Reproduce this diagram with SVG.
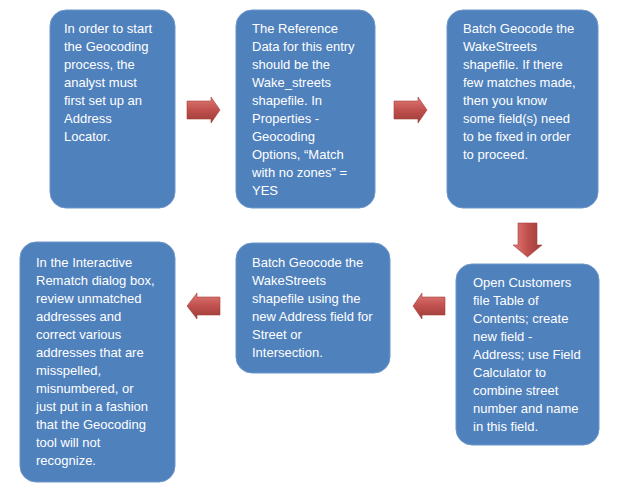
<svg xmlns="http://www.w3.org/2000/svg" width="618" height="496" viewBox="0 0 618 496">
<style>
.box{fill:#4f81bd;stroke:#6d95c8;stroke-width:1}
.t{font-family:"Liberation Sans",Arial,sans-serif;font-size:13px;fill:#ffffff}
.arr{fill:url(#rg);stroke:#a4403d;stroke-width:0.6}
</style>
<defs>
<linearGradient id="rg" x1="0" y1="0" x2="0" y2="1">
<stop offset="0" stop-color="#e07a76"/>
<stop offset="0.5" stop-color="#c0504d"/>
<stop offset="1" stop-color="#9c3c39"/>
</linearGradient>
<linearGradient id="rgv" x1="0" y1="0" x2="1" y2="0">
<stop offset="0" stop-color="#e07a76"/>
<stop offset="0.5" stop-color="#c0504d"/>
<stop offset="1" stop-color="#9c3c39"/>
</linearGradient>
</defs>
<rect width="618" height="496" fill="#ffffff"/>
<g id="n1">
<rect class="box" x="50" y="10" width="125" height="198" rx="16"/>
<text class="t" x="64" y="33">
<tspan x="64" dy="0">In order to start</tspan>
<tspan x="64" dy="18">the Geocoding</tspan>
<tspan x="64" dy="18">process, the</tspan>
<tspan x="64" dy="18">analyst must</tspan>
<tspan x="64" dy="18">first set up an</tspan>
<tspan x="64" dy="18">Address</tspan>
<tspan x="64" dy="18">Locator.</tspan>
</text>
</g>
<g id="n2">
<rect class="box" x="236" y="10" width="139" height="198" rx="16"/>
<text class="t" x="252" y="33">
<tspan x="252" dy="0">The Reference</tspan>
<tspan x="252" dy="18">Data for this entry</tspan>
<tspan x="252" dy="18">should be the</tspan>
<tspan x="252" dy="18">Wake_streets</tspan>
<tspan x="252" dy="18">shapefile. In</tspan>
<tspan x="252" dy="18">Properties -</tspan>
<tspan x="252" dy="18">Geocoding</tspan>
<tspan x="252" dy="18">Options, “Match</tspan>
<tspan x="252" dy="18">with no zones” =</tspan>
<tspan x="252" dy="18">YES</tspan>
</text>
</g>
<g id="n3">
<rect class="box" x="447" y="10" width="151" height="198" rx="16"/>
<text class="t" x="463" y="33">
<tspan x="463" dy="0">Batch Geocode the</tspan>
<tspan x="463" dy="18">WakeStreets</tspan>
<tspan x="463" dy="18">shapefile. If there</tspan>
<tspan x="463" dy="18">few matches made,</tspan>
<tspan x="463" dy="18">then you know</tspan>
<tspan x="463" dy="18">some field(s) need</tspan>
<tspan x="463" dy="18">to be fixed in order</tspan>
<tspan x="463" dy="18">to proceed.</tspan>
</text>
</g>
<g id="n4">
<rect class="box" x="456" y="264" width="143" height="181" rx="16"/>
<text class="t" x="473" y="287">
<tspan x="473" dy="0">Open Customers</tspan>
<tspan x="473" dy="18">file Table of</tspan>
<tspan x="473" dy="18">Contents; create</tspan>
<tspan x="473" dy="18">new field -</tspan>
<tspan x="473" dy="18">Address; use Field</tspan>
<tspan x="473" dy="18">Calculator to</tspan>
<tspan x="473" dy="18">combine street</tspan>
<tspan x="473" dy="18">number and name</tspan>
<tspan x="473" dy="18">in this field.</tspan>
</text>
</g>
<g id="n5">
<rect class="box" x="236" y="243" width="154" height="130" rx="16"/>
<text class="t" x="252" y="267">
<tspan x="252" dy="0">Batch Geocode the</tspan>
<tspan x="252" dy="18">WakeStreets</tspan>
<tspan x="252" dy="18">shapefile using the</tspan>
<tspan x="252" dy="18">new Address field for</tspan>
<tspan x="252" dy="18">Street or</tspan>
<tspan x="252" dy="18">Intersection.</tspan>
</text>
</g>
<g id="n6">
<rect class="box" x="20" y="242" width="155" height="240" rx="16"/>
<text class="t" x="36" y="267">
<tspan x="36" dy="0">In the Interactive</tspan>
<tspan x="36" dy="18">Rematch dialog box,</tspan>
<tspan x="36" dy="18">review unmatched</tspan>
<tspan x="36" dy="18">addresses and</tspan>
<tspan x="36" dy="18">correct various</tspan>
<tspan x="36" dy="18">addresses that are</tspan>
<tspan x="36" dy="18">misspelled,</tspan>
<tspan x="36" dy="18">misnumbered, or</tspan>
<tspan x="36" dy="18">just put in a fashion</tspan>
<tspan x="36" dy="18">that the Geocoding</tspan>
<tspan x="36" dy="18">tool will not</tspan>
<tspan x="36" dy="18">recognize.</tspan>
</text>
</g>
<g id="connectors">
<path class="arr" d="M187,101 H211 V97 L220,110 L211,123 V119 H187 Z"/>
<path class="arr" d="M394,101 H418 V97 L427,110 L418,123 V119 H394 Z"/>
<path class="arr" style="fill:url(#rgv)" d="M518,223 H537 V245 H542 L527.5,257 L513,245 H518 Z"/>
<path class="arr" d="M445,297 H422 V293 L413,306 L422,319 V315 H445 Z"/>
<path class="arr" d="M220,297 H197 V293 L187,306 L197,319 V315 H220 Z"/>
</g>
</svg>
